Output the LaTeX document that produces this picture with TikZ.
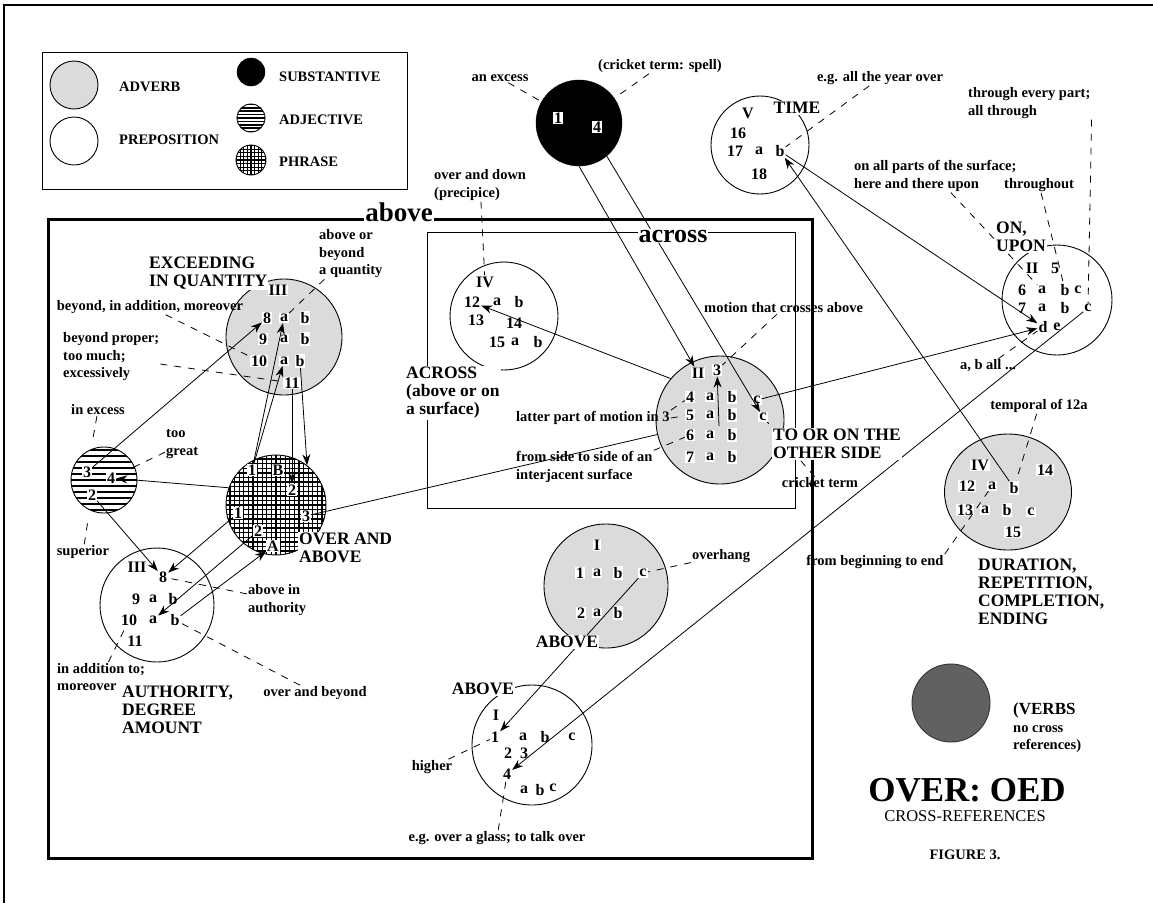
\documentclass[tikz,border=0pt]{standalone}
\usepackage{fontspec}
\setmainfont{Liberation Serif}
\usetikzlibrary{arrows.meta, shapes.geometric}

\newcommand\lblfont{\fontsize{14.5}{17.5}\selectfont\bfseries}
\newcommand\itmfont{\fontsize{16}{18}\selectfont\bfseries}
\newcommand\bigfont{\fontsize{17.5}{18}\selectfont\bfseries}

\tikzset{
  advcirc/.style={circle, draw, line width=0.9pt, fill=gray!28, inner sep=0pt},
  prepcirc/.style={circle, draw, line width=0.9pt, fill=white, inner sep=0pt},
  subcirc/.style={circle, draw, fill=black, inner sep=0pt},
  verbcirc/.style={circle, draw=black!80, line width=0.9pt, fill=black!62, inner sep=0pt},
  adjcirc/.style={circle, draw, line width=0.9pt, fill=white, inner sep=0pt,
    path picture={\foreach \k in {-12,...,12}
      \draw[line width=0.42*#1pt] ([yshift=\k*#1pt]path picture bounding box.west) -- ([yshift=\k*#1pt]path picture bounding box.east);}},
  phrcirc/.style={circle, draw, line width=0.9pt, fill=white, inner sep=0pt,
    path picture={\foreach \k in {-12,...,12} {
      \draw[line width=0.3*#1pt] ([yshift=\k*#1pt]path picture bounding box.west) -- ([yshift=\k*#1pt]path picture bounding box.east);
      \draw[line width=0.3*#1pt] ([xshift=\k*#1pt]path picture bounding box.north) -- ([xshift=\k*#1pt]path picture bounding box.south);}}},
  itm/.style={fill=white, inner sep=1pt, font=\itmfont},
  lbl/.style={font=\lblfont, align=left, inner sep=1pt},
  biglbl/.style={font=\bigfont, align=left, inner sep=1pt, fill=white},
  xref/.style={-{Stealth[length=11pt,width=8pt]}, line width=0.8pt},
  conn/.style={line width=0.8pt},
  leadline/.style={line width=0.8pt, dash pattern=on 7pt off 7pt},
}

\begin{document}
\begin{tikzpicture}[x=1pt, y=-1pt]
    \useasboundingbox (0,0) rectangle (1153,903);

    % Page frame
    \draw[line width=2pt] (4,903) -- (4,5) -- (1153,5);

    % Legend
    \draw[line width=0.8pt] (42,52) rectangle (407,189);
    \node[advcirc, minimum size=48pt] (lgadv) at (74,85) {};
    \node[prepcirc, minimum size=48pt] (lgprep) at (74,141) {};
    \node[subcirc, minimum size=28pt] (lgsub) at (251,72) {};
    \node[adjcirc=3.4, minimum size=28pt] (lgadj) at (251,118) {};
    \node[phrcirc=3.6, minimum size=30pt] (lgphr) at (251,160) {};
    \node[lbl, anchor=west] (lgadvtxt) at (118,87) {ADVERB};
    \node[lbl, anchor=west] (lgpreptxt) at (118,140) {PREPOSITION};
    \node[lbl, anchor=west] (lgsubtxt) at (278,77) {SUBSTANTIVE};
    \node[lbl, anchor=west] (lgadjtxt) at (278,120) {ADJECTIVE};
    \node[lbl, anchor=west] (lgphrtxt) at (278,162) {PHRASE};

    % Frames: above and across
    \draw[line width=3pt] (48,219) rectangle (812,858);
    \draw[line width=0.9pt] (427,232) rectangle (795,508);

    % Circles
    \node[subcirc, minimum size=86pt] (sub) at (579,123) {};
    \node[prepcirc, minimum size=98pt] (tim) at (760,145) {};
    \node[prepcirc, minimum size=110pt] (onc) at (1057,300) {};
    \node[advcirc, ellipse, minimum width=127pt, minimum height=116pt] (dur) at (1008,492) {};
    \node[advcirc, minimum size=128pt] (oth) at (720,420) {};
    \node[prepcirc, minimum size=108pt] (acr) at (504,316) {};
    \node[advcirc, minimum size=116pt] (exc) at (284,337) {};
    \node[adjcirc=6, minimum size=66pt] (adj) at (104,480) {};
    \node[phrcirc=4.6, minimum size=100pt] (phr) at (276,505) {};
    \node[prepcirc, minimum size=114pt] (aut) at (157,605) {};
    \node[advcirc, minimum size=124pt] (abv) at (606,586) {};
    \node[prepcirc, minimum size=120pt] (hig) at (532,745) {};
    \node[verbcirc, minimum size=78pt] (vrb) at (951,703) {};

    % Senses inside the circles
    \foreach \nm/\txt/\x/\y in {sub1/1/558/118, sub4/4/597/127}
        \node[itm] (\nm) at (\x,\y) {\txt};
    \foreach \nm/\txt/\x/\y in {timV/V/748/113, tim16/16/738/133, tim17/17/735/151,
        tim17a/a/759/151, tim17b/b/780/151, tim18/18/759/174}
        \node[itm] (\nm) at (\x,\y) {\txt};
    \foreach \nm/\txt/\x/\y in {onII/II/1032/268, on5/5/1055/268, on6/6/1022/290,
        on6a/a/1042/290, on6b/b/1065/290, on6c/c/1078/290, on7/7/1022/308,
        on7a/a/1042/308, on7b/b/1065/308, on7c/c/1088/308, ond/d/1043/327, one/e/1057/327}
        \node[itm] (\nm) at (\x,\y) {\txt};
    \foreach \nm/\txt/\x/\y in {durIV/IV/980/465, dur14/14/1045/470, dur12/12/967/486,
        dur12a/a/992/486, dur12b/b/1014/488, dur13/13/965/510, dur13a/a/985/510,
        dur13b/b/1007/510, dur13c/c/1031/512, dur15/15/1013/532}
        \node[itm] (\nm) at (\x,\y) {\txt};
    \foreach \nm/\txt/\x/\y in {othII/II/698/373, oth3/3/717/370,
        oth4/4/690/397, oth4a/a/710/397, oth4b/b/732/397, oth4c/c/757/400,
        oth5/5/690/415, oth5a/a/710/415, oth5b/b/732/415, oth5c/c/763/417,
        oth6/6/690/435, oth6a/a/710/435, oth6b/b/732/435,
        oth7/7/690/457, oth7a/a/710/457, oth7b/b/732/457}
        \node[itm] (\nm) at (\x,\y) {\txt};
    \foreach \nm/\txt/\x/\y in {acrIV/IV/485/282, acr12/12/472/302, acr12a/a/497/302,
        acr12b/b/519/302, acr13/13/476/320, acr14/14/514/323, acr15/15/497/342,
        acr15a/a/515/342, acr15b/b/538/342}
        \node[itm] (\nm) at (\x,\y) {\txt};
    \foreach \nm/\txt/\x/\y in {excIII/III/278/290, exc8/8/267/318, exc8a/a/284/318,
        exc8b/b/305/318, exc9/9/263/339, exc9a/a/284/339, exc9b/b/305/339,
        exc10/10/259/361, exc10a/a/284/361, exc10b/b/300/361, exc11/11/292/383}
        \node[itm] (\nm) at (\x,\y) {\txt};
    \foreach \nm/\txt/\x/\y in {adj3/3/87/472, adj4/4/111/478, adj2/2/92/495}
        \node[itm] (\nm) at (\x,\y) {\txt};
    \foreach \nm/\txt/\x/\y in {phr1t/1/252/470, phrB/B/278/470, phr2t/2/292/490,
        phr1/1/238/513, phr3/3/306/516, phr2/2/258/531, phrA/A/273/546}
        \node[itm] (\nm) at (\x,\y) {\txt};
    \foreach \nm/\txt/\x/\y in {autIII/III/137/567, aut8/8/163/577, aut9/9/136/599,
        aut9a/a/153/599, aut9b/b/173/599, aut10/10/129/620, aut10a/a/153/620,
        aut10b/b/175/620, aut11/11/135/641}
        \node[itm] (\nm) at (\x,\y) {\txt};
    \foreach \nm/\txt/\x/\y in {abvI/I/597/545, abv1/1/580/573, abv1a/a/597/573,
        abv1b/b/618/573, abv1c/c/643/573, abv2/2/581/613, abv2a/a/597/613, abv2b/b/618/613}
        \node[itm] (\nm) at (\x,\y) {\txt};
    \foreach \nm/\txt/\x/\y in {higI/I/496/715, hig1/1/495/737, hig1a/a/523/737,
        hig1b/b/545/737, hig1c/c/572/737, hig2/2/508/753, hig3/3/524/753,
        hig4/4/507/774, hig4a/a/524/790, hig4b/b/540/790, hig4c/c/553/788}
        \node[itm] (\nm) at (\x,\y) {\txt};
    \coordinate (oth35) at (719,426);

    % Glosses
    \node[lbl] (lblexcess) at (500,78) {an excess};
    \node[lbl] (lblspell) at (660,66) {(cricket term: spell)};
    \node[lbl, anchor=west] (lblprecip) at (433,185) {over and down\\(precipice)};
    \node[lbl] (lblyear) at (880,78) {e.g. all the year over};
    \node[lbl, anchor=west] (lblevery) at (967,103) {through every part;\\all through};
    \node[lbl, anchor=west] (lblparts) at (853,176) {on all parts of the surface;\\here and there upon};
    \node[lbl, anchor=west] (lblthrough) at (1003,185) {throughout};
    \node[lbl] (lblall) at (988,366) {a, b all ...};
    \node[lbl, anchor=west] (lblmotion) at (703,308) {motion that crosses above};
    \node[lbl, anchor=west] (lbllatter) at (515,418) {latter part of motion in 3};
    \node[lbl, anchor=west] (lblside) at (515,467) {from side to side of an\\interjacent surface};
    \node[lbl] (lblcricket) at (820,483) {cricket term};
    \node[lbl] (lbltemporal) at (1039,406) {temporal of 12a};
    \node[lbl] (lblbegin) at (875,562) {from beginning to end};
    \node[lbl, anchor=west] (lblquantity) at (318,254) {above or\\beyond\\a quantity};
    \node[lbl] (lbladdition) at (150,307) {beyond, in addition, moreover};
    \node[lbl, anchor=west] (lblproper) at (62,357) {beyond proper;\\too much;\\excessively};
    \node[lbl] (lblinexcess) at (98,410) {in excess};
    \node[lbl, anchor=west] (lblgreat) at (165,444) {too\\great};
    \node[lbl] (lblsuperior) at (83,552) {superior};
    \node[lbl, anchor=west] (lblauthority) at (247,600) {above in\\authority};
    \node[lbl, anchor=west] (lbladdto) at (56,677) {in addition to;\\moreover};
    \node[lbl] (lblbeyond) at (315,693) {over and beyond};
    \node[lbl] (lbloverhang) at (721,556) {overhang};
    \node[lbl] (lblhigher) at (432,767) {higher};
    \node[lbl] (lblglass) at (497,838) {e.g. over a glass; to talk over};
    \node[lbl, anchor=west] (lblverbs) at (1012,728) {\fontsize{17}{17.5}\selectfont(VERBS\\no cross\\references)};

    % Cross-references
    \draw[xref] (sub.south) -- (othII);
    \draw[xref] (sub.-50) -- (oth5c);
    \draw[xref] (dur12b) -- (tim17b);
    \draw[xref] (tim17b) -- (ond);
    \draw[xref] (oth4c) -- (ond);
    \draw[xref] (on7c) -- (hig4);
    \draw[xref] (oth.140) -- (acr12);
    \draw[xref] (oth35) -- (oth3);
    \draw[conn] (phr3) -- (oth);
    \draw[xref] (adj3) -- (exc8);
    \draw[xref] (phr1t) -- (exc8a);
    \draw[xref] (phr1t) -- (exc10a);
    \draw[xref] (exc11) -- (phr2t);
    \draw[xref] (exc10b) -- (phr.52);
    \draw[xref] (phr.160) -- (adj4);
    \draw[xref] (adj2) -- (aut8);
    \draw[xref] (phr1) -- (aut8);
    \draw[xref] (phr2) -- (aut10a);
    \draw[xref] (aut10b) -- (phrA);
    \draw[xref] (abv1c) -- (hig1);

    % Leaders to glosses
    \draw[leadline] (lblexcess) -- (sub);
    \draw[leadline] (lblspell) -- (sub);
    \draw[leadline] (lblyear) -- (tim17b);
    \draw[leadline] (lblparts) -- (on6a);
    \draw[leadline] (lblthrough) -- (on6b);
    \draw[leadline] (lblevery.south east) -- (on7c);
    \draw[leadline] (lblall) -- (ond);
    \draw[leadline] (lbltemporal) -- (dur12b);
    \draw[leadline] (lblbegin.north east) -- (dur12a);
    \draw[leadline] (lblcricket) -- (oth5c);
    \draw[leadline] (lblmotion) -- (oth3);
    \draw[leadline] (lbllatter.north east) -- (oth4);
    \draw[leadline] (lbllatter.east) -- (oth5);
    \draw[leadline] (lblside.north east) -- (oth6);
    \draw[leadline] (lblprecip) -- (acrIV);
    \draw[leadline] (lblquantity) -- (exc8a);
    \draw[leadline] (lbladdition) -- (exc10);
    \draw[leadline] (lblproper) -- (exc11);
    \draw[leadline, shorten >=28pt] (lblinexcess) -- (adj3);
    \draw[leadline, shorten >=18pt] (lblgreat) -- (adj4);
    \draw[leadline, shorten >=22pt] (lblsuperior) -- (adj2);
    \draw[leadline] (lblauthority) -- (aut8);
    \draw[leadline] (lbladdto) -- (aut10);
    \draw[leadline] (lblbeyond) -- (aut10b);
    \draw[leadline] (lbloverhang) -- (abv1c);
    \draw[leadline] (lblhigher) -- (hig1);
    \draw[leadline] (lblglass) -- (hig4);

    % Headings
    \node[biglbl, anchor=west] (lblexceed) at (148,273) {EXCEEDING\\IN QUANTITY};
    \node[biglbl, anchor=west] (lblover) at (298,548) {OVER AND\\ABOVE};
    \node[biglbl, anchor=west] (lblauth) at (121,710) {AUTHORITY,\\DEGREE\\AMOUNT};
    \node[biglbl, anchor=west] (lblacross) at (405,393) {ACROSS\\(above or on\\a surface)};
    \node[biglbl, anchor=west] (lblother) at (772,444) {TO OR ON THE\\OTHER SIDE};
    \node[biglbl, anchor=west] (lblon) at (995,237) {ON,\\UPON};
    \node[biglbl, anchor=west] (lbldur) at (977,592) {DURATION,\\REPETITION,\\COMPLETION,\\ENDING};
    \node[biglbl] (timlbl) at (797,108) {TIME};
    \node[biglbl] (abvlbl) at (567,642) {ABOVE};
    \node[biglbl] (higlbl) at (483,689) {ABOVE};
    \node[font=\fontsize{27}{28}\selectfont\bfseries, fill=white, inner sep=1pt] (lblabove) at (399,212) {above};
    \node[font=\fontsize{26}{27}\selectfont\bfseries, fill=white, inner sep=1pt] (lblacrossbox) at (673,236) {across};

    % Title
    \node[font=\fontsize{35}{36}\selectfont\bfseries] (lbltitle) at (967,790) {OVER: OED};
    \node[font=\fontsize{16.5}{18}\selectfont] (lblcross) at (965,816) {CROSS-REFERENCES};
    \node[lbl] (lblfigure) at (965,855) {FIGURE 3.};
\end{tikzpicture}
\end{document}
